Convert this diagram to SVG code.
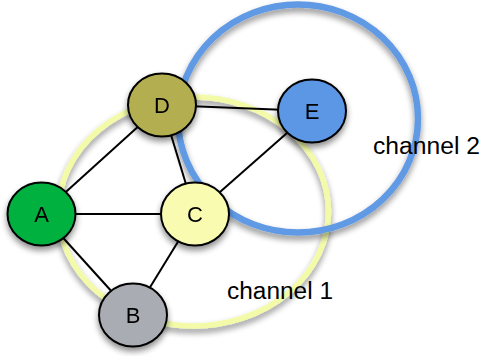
<svg xmlns="http://www.w3.org/2000/svg" width="483" height="356" viewBox="0 0 483 356">
<defs>
<filter id="sh" x="-30%" y="-30%" width="160%" height="170%">
<feGaussianBlur in="SourceAlpha" stdDeviation="3"/>
<feOffset dx="0" dy="4" result="b"/>
<feComponentTransfer in="b" result="s"><feFuncA type="linear" slope="0.45"/></feComponentTransfer>
<feMerge><feMergeNode in="s"/><feMergeNode in="SourceGraphic"/></feMerge>
</filter>
<style>
.node ellipse{stroke:#000;stroke-width:2}
.node text{font-family:"Liberation Sans",Arial,sans-serif;font-size:22px;text-anchor:middle;fill:#000}
.edge{stroke:#000;stroke-width:2;fill:none}
.lbl{font-family:"Liberation Sans",Arial,sans-serif;font-size:23px;fill:#000}
</style>
</defs>
<g id="channel1" filter="url(#sh)">
<ellipse cx="193.5" cy="211.5" rx="135" ry="114.5" fill="none" stroke="#f3fba8" stroke-width="5.5"/>
</g>
<g id="channel2" filter="url(#sh)">
<ellipse cx="298" cy="118.5" rx="120" ry="114" fill="none" stroke="#6199e4" stroke-width="6.5"/>
</g>
<g id="connectors">
<line class="edge" x1="41.5" y1="214" x2="162" y2="105"/>
<line class="edge" x1="41.5" y1="214" x2="195" y2="214"/>
<line class="edge" x1="41.5" y1="214" x2="133" y2="315"/>
<line class="edge" x1="195" y1="214" x2="133" y2="315"/>
<line class="edge" x1="162" y1="105" x2="195" y2="214"/>
<line class="edge" x1="162" y1="105" x2="312" y2="111"/>
<line class="edge" x1="195" y1="214" x2="312" y2="111"/>
</g>
<g id="A" class="node" filter="url(#sh)"><ellipse cx="41.5" cy="214" rx="34" ry="31.5" fill="#00b140"/><text x="41.5" y="221.5">A</text></g>
<g id="B" class="node" filter="url(#sh)"><ellipse cx="133" cy="315" rx="34" ry="31.5" fill="#a9adb3"/><text x="133" y="322.5">B</text></g>
<g id="C" class="node" filter="url(#sh)"><ellipse cx="195" cy="214" rx="34" ry="31.5" fill="#f8fbb0"/><text x="195" y="221.5">C</text></g>
<g id="D" class="node" filter="url(#sh)"><ellipse cx="162" cy="105" rx="34" ry="31.5" fill="#b3ae50"/><text x="162" y="112.5">D</text></g>
<g id="E" class="node" filter="url(#sh)"><ellipse cx="312" cy="111" rx="34" ry="31.5" fill="#5b97e6"/><text x="312" y="118.5">E</text></g>
<text class="lbl" x="227" y="299" textLength="106" lengthAdjust="spacingAndGlyphs">channel 1</text>
<text class="lbl" x="373" y="154" textLength="107" lengthAdjust="spacingAndGlyphs">channel 2</text>
</svg>
